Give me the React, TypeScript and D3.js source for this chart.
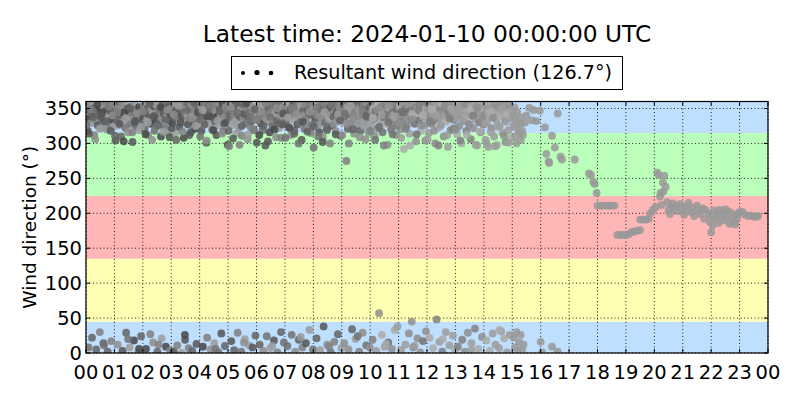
import * as d3 from 'd3';

// Wind direction samples, one row per hour (00..14), evenly spaced within the hour
const dirByHour: number[][] = [
  [352, 341, 318, 8, 335, 356, 347, 329, 22, 344, 338, 312, 351, 333, 5, 358, 326, 345, 340, 30, 349, 322, 336, 355, 14, 343, 331, 359, 347, 320, 2, 339, 353, 328, 346, 17, 334, 357, 342, 325],
  [347, 304, 355, 333, 12, 341, 326, 359, 338, 310, 349, 3, 331, 344, 356, 322, 29, 337, 350, 316, 345, 8, 328, 353, 340, 302, 334, 18, 357, 343, 325, 348, 336, 1, 352, 319, 339, 24, 346, 330],
  [339, 356, 321, 345, 6, 333, 350, 312, 342, 358, 27, 328, 347, 336, 15, 353, 318, 341, 330, 355, 2, 344, 326, 349, 337, 310, 21, 357, 335, 343, 323, 351, 9, 338, 346, 315, 354, 332, 4, 340],
  [350, 329, 343, 2, 357, 336, 315, 348, 11, 341, 355, 324, 333, 346, 0, 338, 352, 308, 344, 19, 330, 359, 341, 327, 7, 349, 335, 316, 354, 3, 342, 331, 347, 321, 356, 13, 337, 345, 326, 351],
  [334, 351, 318, 343, 9, 356, 327, 340, 348, 301, 22, 336, 353, 329, 344, 5, 359, 320, 338, 350, 14, 331, 346, 312, 355, 339, 1, 325, 349, 342, 28, 334, 357, 317, 345, 10, 352, 330, 341, 298],
  [346, 296, 338, 355, 17, 326, 349, 341, 4, 333, 357, 314, 344, 29, 352, 322, 337, 348, 2, 311, 356, 335, 343, 20, 328, 351, 339, 306, 359, 11, 345, 324, 332, 353, 8, 340, 319, 347, 25, 336],
  [301, 349, 335, 357, 12, 342, 328, 353, 319, 3, 346, 338, 297, 355, 24, 331, 350, 343, 316, 7, 358, 336, 325, 348, 18, 341, 354, 309, 333, 1, 347, 322, 356, 339, 30, 344, 327, 351, 15, 337],
  [352, 330, 345, 10, 357, 323, 339, 348, 312, 26, 334, 355, 342, 318, 2, 350, 337, 327, 359, 19, 344, 331, 353, 305, 8, 347, 340, 321, 356, 14, 336, 349, 326, 343, 33, 358, 315, 341, 354, 5],
  [294, 346, 333, 357, 21, 340, 352, 327, 316, 4, 349, 337, 355, 309, 38, 343, 330, 358, 322, 12, 347, 335, 351, 300, 1, 341, 325, 356, 338, 16, 353, 318, 344, 331, 27, 359, 336, 348, 311, 7],
  [349, 331, 356, 14, 338, 345, 275, 352, 321, 5, 341, 357, 329, 347, 34, 335, 353, 314, 343, 20, 358, 326, 339, 350, 2, 345, 318, 333, 355, 29, 342, 330, 348, 306, 11, 357, 336, 324, 351, 8],
  [343, 357, 326, 19, 350, 335, 311, 346, 3, 339, 358, 322, 57, 344, 331, 353, 26, 316, 348, 337, 9, 355, 328, 342, 298, 15, 351, 334, 359, 320, 6, 345, 340, 327, 33, 356, 312, 349, 38, 330],
  [338, 353, 320, 4, 346, 331, 357, 292, 342, 12, 350, 325, 337, 355, 28, 314, 348, 334, 45, 343, 8, 359, 328, 352, 303, 340, 21, 347, 333, 356, 1, 318, 345, 339, 17, 354, 326, 349, 31, 336],
  [344, 356, 315, 22, 339, 351, 328, 346, 7, 333, 358, 300, 341, 48, 353, 322, 336, 16, 349, 327, 357, 2, 343, 310, 338, 354, 30, 331, 347, 295, 345, 11, 352, 319, 337, 359, 25, 334, 341, 5],
  [336, 352, 313, 9, 347, 325, 357, 341, 300, 19, 354, 332, 345, 2, 338, 318, 356, 29, 343, 327, 350, 306, 14, 339, 359, 322, 348, 35, 334, 353, 297, 344, 6, 330, 357, 316, 341, 23, 349, 327],
  [341, 354, 305, 18, 330, 348, 295, 357, 3, 337, 322, 350, 28, 345, 310, 356, 12, 333, 298, 343, 352, 7, 325, 339, 31, 358, 315, 346, 21, 334, 302, 351, 1, 342, 319, 355, 26, 336, 308, 347],
];

// Second pass of samples (offset half a step), filling the 300-360 cluster
const dirByHourB: number[][] = [
  [327, 314, 349, 337, 306, 356, 321, 343, 11, 332, 353, 318, 340],
  [311, 345, 328, 357, 303, 336, 20, 350, 316, 331, 343, 6, 324],
  [346, 313, 330, 358, 305, 339, 325, 12, 352, 317, 334, 348, 309],
  [322, 341, 305, 354, 330, 317, 26, 347, 312, 336, 359, 325, 344],
  [310, 348, 327, 304, 339, 355, 319, 6, 333, 346, 314, 328, 351],
  [318, 352, 307, 330, 344, 298, 325, 15, 357, 313, 338, 321, 349],
  [333, 312, 346, 325, 357, 303, 338, 10, 320, 350, 329, 308, 343],
  [308, 337, 322, 351, 314, 342, 300, 23, 331, 356, 317, 345, 326],
  [324, 351, 310, 338, 302, 345, 319, 9, 356, 328, 313, 341, 333],
  [312, 343, 328, 300, 354, 320, 337, 24, 309, 347, 325, 339, 316],
  [318, 336, 305, 349, 324, 341, 297, 13, 330, 355, 313, 338, 325],
  [329, 308, 344, 321, 356, 297, 335, 10, 313, 348, 326, 341, 304],
  [306, 331, 349, 318, 340, 297, 325, 20, 355, 312, 336, 347, 322],
  [320, 344, 304, 333, 356, 312, 328, 4, 340, 298, 351, 317, 335],
  [328, 300, 345, 316, 337, 296, 324, 33, 350, 311, 331, 301, 340],
];

// Gray level per sample (0 = dark, 9 = light), same layout as dirByHour
const shadeByHour: string[] = [
  '4635273845362748354627384536274835462738',
  '5364728354637285463728546372854637285463',
  '3746284735628473562847356284735628473562',
  '6253748362537483625374836253748362537483',
  '4736258473625847362584736258473625847362',
  '5647385647385647385647385647385647385647',
  '3857462857463857462857463857462857463857',
  '6475836475836475836475836475836475836475',
  '5738465738465738465738465738465738465738',
  '6847576847576847576847576847576847576847',
  '7586957586957586957586957586957586957586',
  '6978567978567978567978567978567978567978',
  '7689786896778689786896778689786896778689',
  '8796878796878796878796878796878796878796',
  '7889878898788987889878898788987889878898',
];
const shadeByHourB: string[] = [
  '5364728354637', '4637285463728', '6284735628473', '3748362537483', '5847362584736',
  '4738564738564', '6274635827463', '5836475836475', '4657384657384', '7576847576847',
  '6957586957586', '7856797856797', '8697868978686', '7868797868797', '8898788987889',
];

// Irregular samples after 15 UTC: hour of day and direction
const tailHours = [
  15.02, 15.05, 15.08, 15.1, 15.12, 15.15, 15.17, 15.2, 15.22, 15.25, 15.27, 15.3, 15.32, 15.35, 15.38,
  15.05, 15.1, 15.15, 15.2, 15.25, 15.3, 15.35, 15.4, 15.45, 15.5, 15.6, 15.7, 15.75, 15.85, 15.97,
  16.0, 16.05, 16.15, 16.2, 16.28, 16.3, 16.4, 16.4, 16.5, 16.6, 16.6, 16.7, 16.75, 17.2, 17.7, 17.77,
  17.85, 17.9, 17.97, 18.0, 18.1, 18.2, 18.3, 18.4, 18.5, 18.6, 18.7, 18.8, 18.9, 19.0, 19.1, 19.2,
  19.3, 19.4, 19.5, 19.5, 19.6, 19.7, 19.8, 19.85, 19.95, 20.05, 20.1, 20.15, 20.2, 20.22, 20.25, 20.3,
  20.32, 20.35, 20.4, 20.45, 20.5, 20.55, 20.6, 20.65, 20.7, 20.8, 20.85, 20.9, 21.0, 21.05, 21.1, 21.15,
  21.2, 21.3, 21.35, 21.4, 21.5, 21.55, 21.6, 21.7, 21.75, 21.8, 21.9, 21.95, 22.0, 22.0, 22.05, 22.1,
  22.15, 22.2, 22.25, 22.3, 22.35, 22.4, 22.45, 22.5, 22.55, 22.6, 22.65, 22.7, 22.75, 22.8, 22.85, 22.9,
  22.95, 23.0, 23.1, 23.2, 23.3, 23.4, 23.5, 23.6, 23.65,
];
const tailDirs = [
  340, 325, 352, 310, 335, 300, 345, 320, 330, 315, 338, 305, 328, 318, 312,
  22, 8, 30, 3, 15, 26, 5, 12, 330, 340, 351, 333, 348, 332, 347,
  16, 1, 323, 285, 274, 272, 311, 9, 294, 343, 2, 281, 277, 277, 257, 255,
  245, 242, 229, 211, 211, 211, 211, 211, 211, 211, 169, 169, 169, 169, 170, 173,
  174, 175, 176, 191, 191, 191, 192, 200, 205, 209, 258, 255, 224, 229, 212, 244,
  231, 254, 238, 216, 205, 199, 210, 214, 207, 211, 203, 213, 206, 198, 210, 204,
  215, 202, 208, 196, 211, 203, 199, 207, 192, 205, 200, 188, 173, 196, 183, 204,
  193, 199, 186, 205, 195, 201, 190, 206, 197, 203, 185, 194, 200, 188, 184, 192,
  198, 202, 202, 198, 196, 197, 195, 195, 196,
];

const bands = [
  { from: 0, to: 45, color: '#bfdffe' },
  { from: 45, to: 135, color: '#ffffb4' },
  { from: 135, to: 225, color: '#ffb6b6' },
  { from: 225, to: 315, color: '#baffba' },
  { from: 315, to: 360, color: '#bfdffe' },
];

const yTicks = [0, 50, 100, 150, 200, 250, 300, 350];
const xTicks = d3.range(0, 25);

const TITLE = 'Latest time: 2024-01-10 00:00:00 UTC';
const LEGEND = 'Resultant wind direction (126.7°)';
const FONT = 'DejaVu Sans, sans-serif';

interface Pt { h: number; d: number; g: number }

export default function App() {
  const W = 800, H = 400;
  const x = d3.scaleLinear().domain([0, 24]).range([86, 768]);
  const y = d3.scaleLinear().domain([0, 360]).range([353, 101.5]);
  const [x0, x1] = x.range();
  const [y0, y1] = y.range();

  const pts: Pt[] = [];
  const addRows = (rows: number[][], shades: string[], offset: number) => {
    rows.forEach((row, hi) => {
      row.forEach((d, i) => {
        const s = +(shades[hi]?.[i] ?? '5');
        pts.push({ h: hi + (i + offset) / row.length, d, g: 0.17 + s * 0.055 });
      });
    });
  };
  addRows(dirByHour, shadeByHour, 0.5);
  addRows(dirByHourB, shadeByHourB, 0.25);
  tailHours.forEach((h, i) => pts.push({ h, d: tailDirs[i], g: 0.6 }));

  const gray = (g: number) => d3.rgb(g * 255, g * 255, g * 255).formatHex();

  return (
    <svg width={W} height={H} style={{ position: 'absolute', left: 0, top: 0, background: '#fff' }} fontFamily={FONT}>
      <defs>
        <clipPath id="plot">
          <rect x={x0} y={y1} width={x1 - x0} height={y0 - y1} />
        </clipPath>
      </defs>

      {/* background bands */}
      {bands.map((b, i) => (
        <rect key={i} x={x0} width={x1 - x0} y={y(b.to)} height={y(b.from) - y(b.to)} fill={b.color} />
      ))}

      {/* grid */}
      {xTicks.map(t => (
        <line key={'gx' + t} x1={x(t)} x2={x(t)} y1={y1} y2={y0} stroke="#000" strokeWidth={1} strokeDasharray="1,2.5" opacity={0.85} />
      ))}
      {yTicks.map(t => (
        <line key={'gy' + t} x1={x0} x2={x1} y1={y(t)} y2={y(t)} stroke="#000" strokeWidth={1} strokeDasharray="1,2.5" opacity={0.85} />
      ))}

      {/* points */}
      <g clipPath="url(#plot)">
        {pts.map((p, i) => (
          <circle key={i} cx={x(p.h)} cy={y(p.d)} r={3.9} fill={gray(p.g)} fillOpacity={0.85} />
        ))}
      </g>

      {/* frame and ticks */}
      <rect x={x0} y={y1} width={x1 - x0} height={y0 - y1} fill="none" stroke="#000" strokeWidth={1.2} />
      {xTicks.map(t => (
        <g key={'tx' + t}>
          <line x1={x(t)} x2={x(t)} y1={y0} y2={y0 - 4} stroke="#000" />
          <line x1={x(t)} x2={x(t)} y1={y1} y2={y1 + 4} stroke="#000" />
          <text x={x(t)} y={379} textAnchor="middle" fontSize={19.5} fill="#000">
            {String(t % 24).padStart(2, '0')}
          </text>
        </g>
      ))}
      {yTicks.map(t => (
        <g key={'ty' + t}>
          <line x1={x0} x2={x0 + 4} y1={y(t)} y2={y(t)} stroke="#000" />
          <line x1={x1} x2={x1 - 4} y1={y(t)} y2={y(t)} stroke="#000" />
          <text x={x0 - 4} y={y(t)} dy="0.34em" textAnchor="end" fontSize={19.5} fill="#000">{t}</text>
        </g>
      ))}

      {/* axis label */}
      <text transform={`translate(36,${(y0 + y1) / 2}) rotate(-90)`} textAnchor="middle" fontSize={18.5} fill="#000">
        Wind direction (°)
      </text>

      {/* title */}
      <text x={(x0 + x1) / 2} y={42} textAnchor="middle" fontSize={23.3} fill="#000">{TITLE}</text>

      {/* legend */}
      <rect x={231.5} y={56.5} width={391} height={33} fill="#fff" stroke="#000" strokeWidth={1} />
      <circle cx={243} cy={73} r={2} fill="#000" />
      <circle cx={257} cy={72.5} r={2.6} fill="#000" />
      <circle cx={271} cy={73} r={2.3} fill="#000" />
      <text x={294} y={79} fontSize={19.2} fill="#000">{LEGEND}</text>
    </svg>
  );
}
